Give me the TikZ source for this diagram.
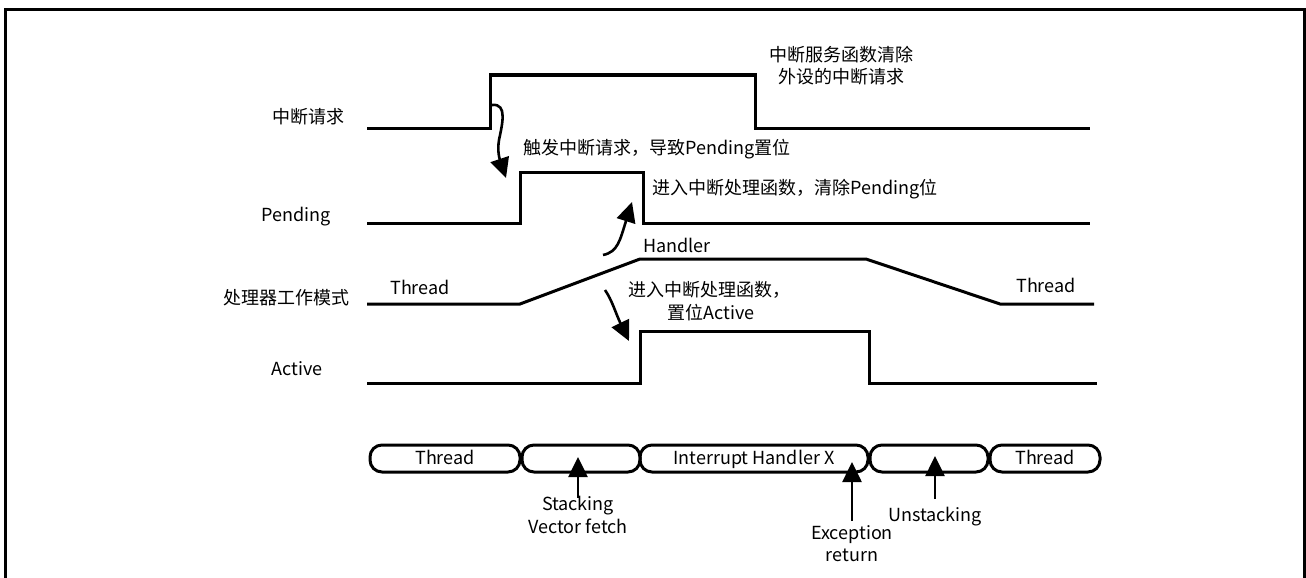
\documentclass[tikz,border=0pt]{standalone}
\usepackage{fontspec}
\setmainfont{Noto Sans CJK SC}
\usetikzlibrary{arrows.meta}
\begin{document}
\begin{tikzpicture}[x=1pt,y=-1pt,
  sig/.style={line width=3pt, line join=miter},
  lbl/.style={font=\fontsize{18}{22}\selectfont, inner sep=0pt, text height=15pt, text depth=3pt},
  arr/.style={line width=2.6pt, -{Triangle[length=20pt,width=19pt]}},
  seg/.style={draw, line width=3pt, rounded corners=12pt, minimum height=27pt, inner sep=0pt,
              font=\fontsize{18}{22}\selectfont, text height=15pt, text depth=3pt}]
\useasboundingbox (0,0) rectangle (1306,578);
% frame
\draw[line width=3pt] (5,590) -- (5,10) -- (1304.5,10) -- (1304.5,590);
% row labels
\node[lbl, anchor=east] (lirq) at (345,117) {中断请求};
\node[lbl, anchor=east] (lpend) at (331,215) {Pending};
\node[lbl, anchor=east] (lmode) at (350,298) {处理器工作模式};
\node[lbl, anchor=east] (lact) at (323,369) {Active};
% signals
\draw[sig] (367,128) -- (490,128) -- (490,75) -- (755,75) -- (755,128) -- (1090,128);
\draw[sig] (367,223) -- (520,223) -- (520,172) -- (643,172) -- (643,223) -- (1090,223);
\draw[sig] (367,304) -- (520,304) -- (640,259) -- (866,259) -- (1000,304) -- (1094,304);
\draw[sig] (367,383) -- (640,383) -- (640,331) -- (869,331) -- (869,383) -- (1097,383);
% mode labels
\node[lbl] (thr1) at (420,288) {Thread};
\node[lbl] (hdl) at (677,246) {Handler};
\node[lbl] (thr2) at (1046,286) {Thread};
% annotations
\node[lbl] (a1) at (841,56) {中断服务函数清除};
\node[lbl] (a2) at (841,78) {外设的中断请求};
\node[lbl, anchor=west] (b1) at (523,148) {触发中断请求，导致Pending置位};
\node[lbl, anchor=west] (c1) at (652,188) {进入中断处理函数，清除Pending位};
\node[lbl, anchor=west] (d1) at (628,290) {进入中断处理函数，};
\node[lbl] (d2) at (711,313) {置位Active};
% curved arrows
\coordinate (p1s) at (492,105);
\coordinate (p1e) at (506,178);
\draw[arr] (p1s) .. controls (508,103) and (502,125) .. (499,140) .. controls (497,152) and (500,160) .. (p1e);
\coordinate (p2s) at (603,255);
\coordinate (p2e) at (632,202);
\draw[arr] (p2s) .. controls (618,252) and (620,240) .. (p2e);
\coordinate (p3s) at (605,290);
\coordinate (p3e) at (629,341);
\draw[arr] (p3s) .. controls (612,300) and (616,314) .. (p3e);
% bottom segments
\node[seg, minimum width=150pt] (s1) at (445,458.5) {Thread};
\node[seg, minimum width=118pt] (s2) at (581,458.5) {};
\node[seg, minimum width=228pt] (s3) at (754,458.5) {Interrupt Handler X};
\node[seg, minimum width=118pt] (s4) at (929,458.5) {};
\node[seg, minimum width=110pt] (s5) at (1045,458.5) {Thread};
% up arrows and labels
\node[lbl] (stk) at (578,504) {Stacking};
\node[lbl] (vf) at (578,527) {Vector fetch};
\node[lbl] (exc) at (852,533) {Exception};
\node[lbl] (ret) at (852,555) {return};
\node[lbl] (ustk) at (935,515) {Unstacking};
\coordinate (t1) at (578,498);
\coordinate (h1) at (578,457);
\coordinate (t2) at (852,521);
\coordinate (h2) at (852,462);
\coordinate (t3) at (935,499);
\coordinate (h3) at (935,456);
\draw[arr] (t1) -- (h1);
\draw[arr] (t2) -- (h2);
\draw[arr] (t3) -- (h3);
\end{tikzpicture}
\end{document}
